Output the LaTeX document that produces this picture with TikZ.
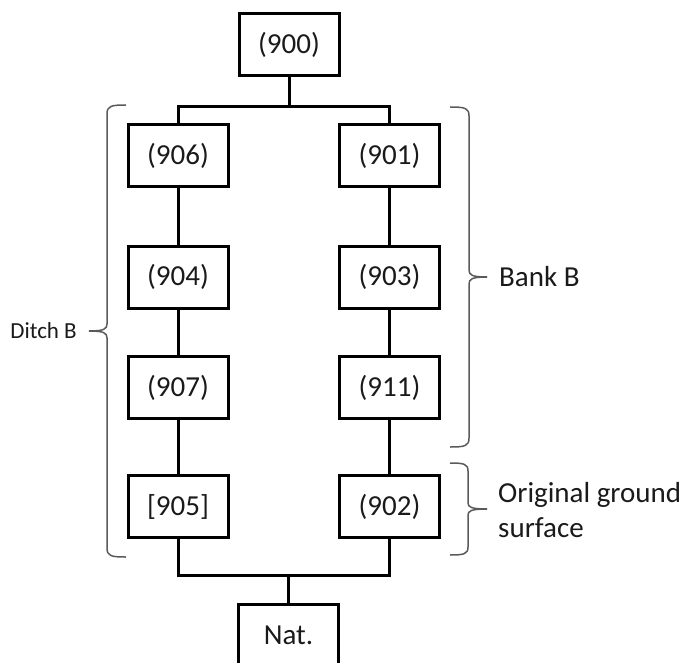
\documentclass[tikz,border=0pt]{standalone}
\usepackage{fontspec}
\setmainfont{Carlito}
\definecolor{bracegray}{HTML}{5A5A5A}
\definecolor{txt}{HTML}{1A1A1A}
\tikzset{
  box/.style={draw=black, line width=3pt, minimum width=100pt, minimum height=62pt, inner sep=0pt,
    text=txt, font=\fontsize{29}{35}\selectfont},
  conn/.style={draw=black, line width=3pt},
  bracepath/.style={draw=bracegray, line width=1.5pt},
  lbl/.style={text=txt, inner sep=0pt, font=\fontsize{29}{35}\selectfont, align=left},
  smalllbl/.style={text=txt, inner sep=0pt, font=\fontsize{23}{28}\selectfont}
}
\begin{document}
\begin{tikzpicture}[x=1pt,y=-1pt]
\useasboundingbox (0,0) rectangle (688,663);
\clip (0,0) rectangle (688,663);
% boxes
\node[box] (n900) at (289,45) {(900)};
\node[box] (n906) at (178,156) {(906)};
\node[box] (n901) at (389.5,156) {(901)};
\node[box] (n904) at (178,277) {(904)};
\node[box] (n903) at (389.5,277) {(903)};
\node[box] (n907) at (178,387.5) {(907)};
\node[box] (n911) at (389.5,387.5) {(911)};
\node[box] (n905) at (178,506.5) {[905]};
\node[box] (n902) at (389.5,506.5) {(902)};
\node[box] (nnat) at (288.5,635.5) {Nat.};
% connectors
\coordinate (jt) at (289,107);
\coordinate (jb) at (288.5,575.5);
\draw[conn] (n900.south) -- (jt);
\draw[conn] (n906.north) |- (jt) -| (n901.north);
\draw[conn] (n906) -- (n904);
\draw[conn] (n904) -- (n907);
\draw[conn] (n907) -- (n905);
\draw[conn] (n901) -- (n903);
\draw[conn] (n903) -- (n911);
\draw[conn] (n911) -- (n902);
\draw[conn] (n905.south) |- (jb) -| (n902.south);
\draw[conn] (jb) -- (nnat.north);
% braces
% Bank B
\draw[bracepath] (450,107) .. controls (465,107) and (469,108) .. (469,116) -- (469,270)
  .. controls (469,275) and (472,277) .. (487,277);
\draw[bracepath] (487,277) .. controls (472,277) and (469,279) .. (469,284) -- (469,438)
  .. controls (469,446) and (465,447) .. (450,447);
% Original ground surface
\draw[bracepath] (450,463) .. controls (464,463) and (468,464) .. (468,471) -- (468,503)
  .. controls (468,507) and (471,509) .. (487,509);
\draw[bracepath] (487,509) .. controls (471,509) and (468,511) .. (468,515) -- (468,547)
  .. controls (468,554) and (464,555) .. (450,555);
% Ditch B
\draw[bracepath] (126,105) .. controls (111,105) and (107,106) .. (107,114) -- (107,324)
  .. controls (107,329) and (104,331) .. (89,331);
\draw[bracepath] (89,331) .. controls (104,331) and (107,333) .. (107,338) -- (107,548)
  .. controls (107,556) and (111,557) .. (126,557);
% labels
\node[lbl, anchor=west] (lbank) at (499,277) {Bank B};
\node[lbl, anchor=west] (lorig) at (498,510) {Original ground\\surface};
\node[smalllbl, anchor=east] (lditch) at (77,331) {Ditch B};
\end{tikzpicture}
\end{document}
